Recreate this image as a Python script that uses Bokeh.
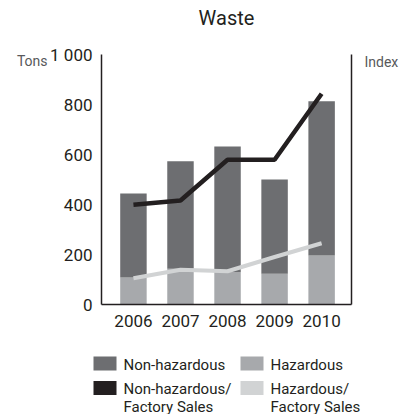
from bokeh.plotting import figure
from bokeh.models import ColumnDataSource, FixedTicker, LinearAxis, Range1d
from bokeh.layouts import column, row
from bokeh.core.properties import value
from bokeh.embed import file_html
from bokeh.resources import INLINE

# ---- data ----
years = [2006, 2007, 2008, 2009, 2010]
non_hazardous = [336, 430, 503, 377, 617]       # tons
hazardous = [108, 143, 129, 123, 196]           # tons
idx_non_hazardous = [399, 416, 579, 579, 843]   # index (drawn on right axis)
idx_hazardous = [105, 139, 133, 190, 245]       # index (drawn on right axis)
y_ticks = [0, 200, 400, 600, 800, 1000]
legend_labels = ["Non-hazardous", "Hazardous", "Non-hazardous/\nFactory Sales", "Hazardous/\nFactory Sales"]

C_NON = "#6d6e71"
C_HAZ = "#a7a9ac"
C_NONL = "#231f20"
C_HAZL = "#d1d3d4"
INK = "#231f20"
GREY = "#58595b"
FONT = "Roboto"

src = ColumnDataSource(dict(year=years, non=non_hazardous, haz=hazardous,
                            inon=idx_non_hazardous, ihaz=idx_hazardous))

MH = 334
p = figure(width=401, height=MH, output_backend="svg", toolbar_location=None,
           x_range=Range1d(2005.321, 2010.635), y_range=Range1d(0, 1000),
           min_border_left=101, min_border_right=45, min_border_top=54,
           min_border_bottom=MH - 54 - 250)
p.extra_y_ranges = {"idx": Range1d(0, 1000)}
p.outline_line_color = None
p.grid.visible = False
p.background_fill_color = "white"
p.border_fill_color = "white"

p.vbar_stack(["haz", "non"], x="year", width=0.5625, source=src,
             color=[C_HAZ, C_NON], line_color=None)
p.line(x="year", y="inon", source=src, line_width=4.5, color=C_NONL, y_range_name="idx")
p.line(x="year", y="ihaz", source=src, line_width=4, color=C_HAZL, y_range_name="idx")

for ax in (p.xaxis[0], p.yaxis[0]):
    ax.axis_line_color = INK
    ax.axis_line_width = 1.5
    ax.major_tick_line_color = None
    ax.minor_tick_line_color = None
    ax.major_label_text_font = FONT
    ax.major_label_text_font_size = "17px"
    ax.major_label_text_color = INK

p.xaxis[0].ticker = FixedTicker(ticks=years)
p.xaxis[0].major_label_standoff = 4
p.yaxis[0].ticker = FixedTicker(ticks=y_ticks)
p.yaxis[0].major_label_overrides = {1000: "1 000"}
p.yaxis[0].major_label_standoff = 3

# title as the label of a bare axis above the frame
top_ax = LinearAxis(ticker=FixedTicker(ticks=[]), axis_label="Waste")
top_ax.axis_line_color = None
top_ax.major_tick_line_color = None
top_ax.minor_tick_line_color = None
top_ax.axis_label_standoff = 25
top_ax.axis_label_text_font = FONT
top_ax.axis_label_text_font_size = "20px"
top_ax.axis_label_text_font_style = "normal"
top_ax.axis_label_text_color = INK
p.add_layout(top_ax, "above")

# unit captions as single-label axes
tons_ax = LinearAxis(ticker=FixedTicker(ticks=[975]), major_label_overrides={975: "Tons"})
tons_ax.axis_line_color = None
tons_ax.major_tick_line_color = None
tons_ax.minor_tick_line_color = None
tons_ax.major_label_standoff = -6
tons_ax.major_label_text_font = FONT
tons_ax.major_label_text_font_size = "14px"
tons_ax.major_label_text_color = GREY
p.add_layout(tons_ax, "left")

rax = LinearAxis(y_range_name="idx", ticker=FixedTicker(ticks=[972]),
                 major_label_overrides={972: "Index"})
rax.axis_line_color = INK
rax.axis_line_width = 1.5
rax.major_tick_line_color = None
rax.minor_tick_line_color = None
rax.major_label_standoff = 7
rax.major_label_text_font = FONT
rax.major_label_text_font_size = "14px"
rax.major_label_text_color = GREY
p.add_layout(rax, "right")

# ---- legend panel ----
LH = 80
lg = figure(width=401, height=LH, output_backend="svg", toolbar_location=None,
            x_range=Range1d(0, 401), y_range=Range1d(LH, 0), min_border=0)
lg.axis.visible = False
lg.grid.visible = False
lg.outline_line_color = None

sq = ColumnDataSource(dict(x=[104.5, 251.5, 104.5, 251.5], y=[29, 29, 53.5, 53.5],
                           c=[C_NON, C_HAZ, C_NONL, C_HAZL]))
lg.rect(x="x", y="y", width=23, height=14, color="c", line_color=None, source=sq)

lines1 = [legend_labels[0], legend_labels[1]] + [l.split("\n")[0] for l in legend_labels[2:]]
lines2 = [l.split("\n")[1] for l in legend_labels[2:]]
t1 = ColumnDataSource(dict(x=[123, 270, 123, 270], y=[30, 30, 54, 54], t=lines1))
t2 = ColumnDataSource(dict(x=[123, 270], y=[72, 72], t=lines2))
for s in (t1, t2):
    lg.text(x="x", y="y", text="t", source=s, text_font=value(FONT),
            text_font_size="15px", text_baseline="middle", text_color=INK)

layout = column(p, row(lg), spacing=0)
open("out.html", "w").write(file_html(layout, INLINE))
